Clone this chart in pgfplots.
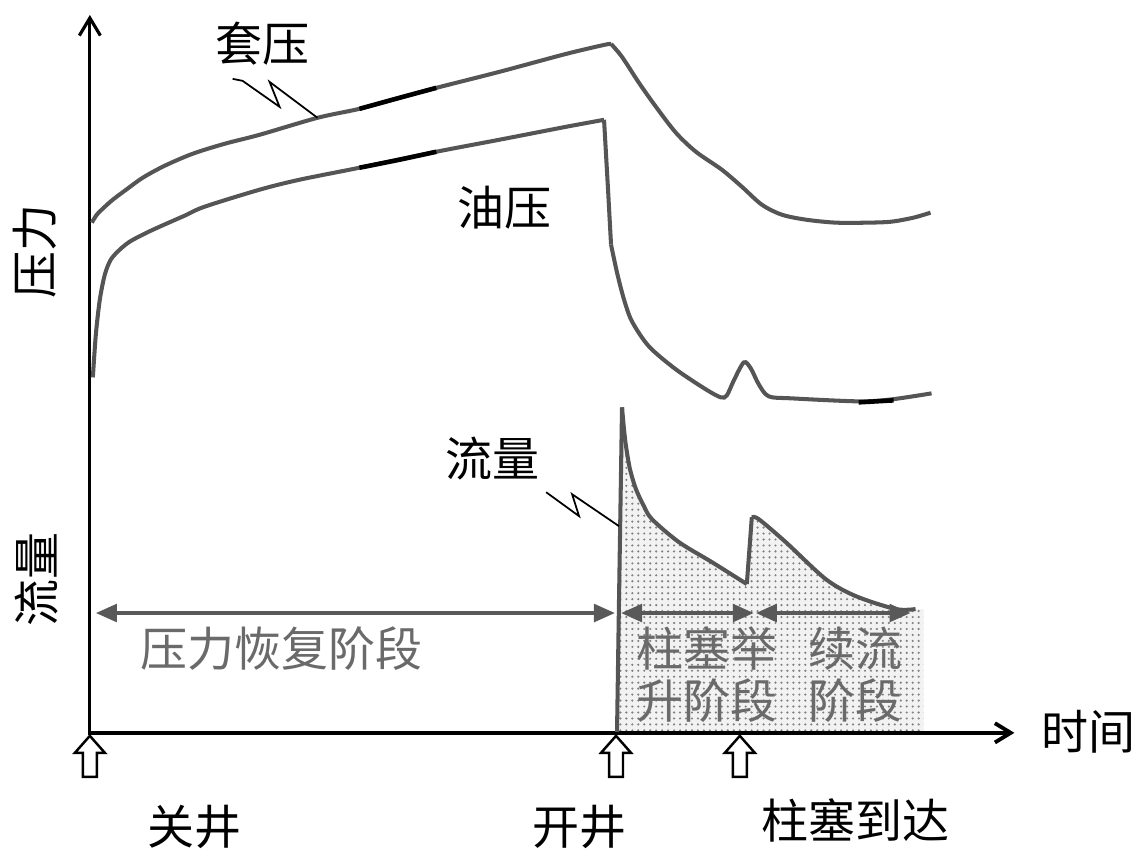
\documentclass[border=0pt]{standalone}
\usepackage{fontspec}
\setmainfont{Noto Sans CJK SC}
\usepackage{pgfplots}
\pgfplotsset{compat=1.18}
\usetikzlibrary{arrows.meta,patterns}
\pgfdeclarepatternformonly{mydots}{\pgfqpoint{-0.5pt}{-0.5pt}}{\pgfqpoint{0.5pt}{0.5pt}}{\pgfqpoint{1.7pt}{1.7pt}}{\pgfpathcircle{\pgfqpoint{0pt}{0pt}}{0.34pt}\pgfusepath{fill}}
\definecolor{curve}{HTML}{555555}
\definecolor{phase}{HTML}{595959}
\definecolor{ptext}{HTML}{6a6a6a}
\newcommand{\lbl}{\fontsize{13.4}{15}\selectfont}
\begin{document}
\begin{tikzpicture}
\begin{axis}[scale only axis, width=114.7mm, height=86.3mm,
  xmin=0, xmax=1147, ymin=0, ymax=863, y dir=reverse,
  hide axis, clip=false]
\addplot[draw=none, forget plot] coordinates {(0,0) (1147,863)};
% flow area
\addplot[draw=none, fill=gray!10, postaction={pattern=mydots, pattern color=gray}] coordinates {
 (618,733) (620,600) (623,408) (625,430) (627,447) (631,470) (637,490) (645,507) (653,520)
 (680,543) (713,563) (748,585) (753,518) (760,520) (787,543) (827,580) (857,597) (897,610)
 (917,610) (925,610) (925,733)} -- cycle;
% axes
\draw[black, line width=0.9pt, -{Straight Barb[length=5pt,width=6pt]}] (axis cs:90,736) -- (axis cs:90,15);
\draw[black, line width=1.1pt, -{Straight Barb[length=4.5pt,width=5.5pt]}] (axis cs:88,734) -- (axis cs:1016,734);
% casing pressure
\addplot[curve, line width=1.15pt, smooth, tension=0.5] coordinates {
 (92,223) (97,215) (104,208) (113,200) (125,191) (143,178) (165,166) (193,154) (225,144) (260,135)
 (318,118) (360,109) (400,98) (437,88) (500,72) (567,54) (605,45) (612,44)};
\addplot[curve, line width=1.15pt, smooth, tension=0.5] coordinates {
 (612,44) (623,57) (640,83) (657,107) (677,133) (697,152) (723,170) (743,187) (763,205)
 (783,215) (807,220) (837,223) (870,223) (893,222) (915,218) (932,213)};
\addplot[black, line width=1.3pt, smooth] coordinates {(360,109) (400,98) (437,88)};
% tubing pressure
\addplot[curve, line width=1.15pt, smooth, tension=0.5] coordinates {
 (93,378) (96,335) (100,300) (105,275) (111,260) (120,250) (130,242) (145,234) (160,227)
 (185,216) (205,207) (260,190) (300,180) (360,168) (437,152) (500,140) (567,127) (605,120)};
\addplot[curve, line width=1.15pt] coordinates {(605,120) (609,190) (612,245)};
\addplot[curve, line width=1.15pt, smooth, tension=0.5] coordinates {
 (612,245) (618,273) (625,300) (633,322) (650,347) (677,370) (707,390) (722,398) (728,396)
 (735,381) (745,363) (752,369) (760,385) (770,397) (793,399) (860,402) (893,400) (933,394)};
\addplot[black, line width=1.3pt, smooth] coordinates {(360,168) (400,160) (437,152)};
\addplot[black, line width=1.3pt] coordinates {(860,403) (895,401)};
% flow
\addplot[curve, line width=1.15pt] coordinates {(618,733) (620,600) (623,408)};
\addplot[curve, line width=1.15pt, smooth, tension=0.5] coordinates {
 (623,408) (625,430) (627,447) (631,470) (637,490) (645,507) (653,520) (680,543) (713,563) (748,585)};
\addplot[curve, line width=1.15pt] coordinates {(748,585) (753,518)};
\addplot[curve, line width=1.15pt, smooth, tension=0.5] coordinates {
 (753,518) (760,520) (787,543) (827,580) (857,597) (897,610) (917,610)};
% phase arrows
\draw[phase, line width=1.1pt, {Triangle[length=6pt,width=5pt]}-{Triangle[length=6pt,width=5pt]}] (axis cs:96,614) -- (axis cs:616,614);
\draw[phase, line width=1.1pt, {Triangle[length=6pt,width=5pt]}-{Triangle[length=6pt,width=5pt]}] (axis cs:622,614) -- (axis cs:755,614);
\draw[phase, line width=1.1pt, {Triangle[length=6pt,width=5pt]}-{Triangle[length=6pt,width=5pt]}] (axis cs:757,614) -- (axis cs:912,614);
% phase labels
\node[ptext, font=\lbl] at (axis cs:282,650) {压力恢复阶段};
\node[ptext, font=\lbl] at (axis cs:708,650) {柱塞举};
\node[ptext, font=\lbl] at (axis cs:708,702) {升阶段};
\node[ptext, font=\lbl] at (axis cs:857,650) {续流};
\node[ptext, font=\lbl] at (axis cs:857,702) {阶段};
% curve labels and leaders
\node[black, font=\lbl] at (axis cs:263,44) {套压};
\node[black, font=\lbl] at (axis cs:505,208) {油压};
\node[black, font=\lbl] at (axis cs:493,459) {流量};
\draw[black, line width=0.5pt] (axis cs:233,79) -- (axis cs:243,81) -- (axis cs:280,107) -- (axis cs:270,82) -- (axis cs:318,118);
\draw[black, line width=0.5pt] (axis cs:547,493) -- (axis cs:580,517) -- (axis cs:573,495) -- (axis cs:620,527);
% axis labels
\node[black, font=\lbl, rotate=90] at (axis cs:35,252) {压力};
\node[black, font=\lbl, rotate=90] at (axis cs:37,580) {流量};
\node[black, font=\lbl] at (axis cs:1090,733) {时间};
% event arrows
\draw[black, line width=0.7pt, fill=white] (axis cs:90,737) -- (axis cs:105,754) -- (axis cs:97,754) -- (axis cs:97,778) -- (axis cs:83,778) -- (axis cs:83,754) -- (axis cs:75,754) -- cycle;
\draw[black, line width=0.7pt, fill=white] (axis cs:617,737) -- (axis cs:632,754) -- (axis cs:624,754) -- (axis cs:624,778) -- (axis cs:610,778) -- (axis cs:610,754) -- (axis cs:602,754) -- cycle;
\draw[black, line width=0.7pt, fill=white] (axis cs:741,737) -- (axis cs:756,754) -- (axis cs:748,754) -- (axis cs:748,778) -- (axis cs:734,778) -- (axis cs:734,754) -- (axis cs:726,754) -- cycle;
\node[black, font=\lbl] at (axis cs:195,828) {关井};
\node[black, font=\lbl] at (axis cs:580,828) {开井};
\node[black, font=\lbl] at (axis cs:857,822) {柱塞到达};
\end{axis}
\end{tikzpicture}
\end{document}
